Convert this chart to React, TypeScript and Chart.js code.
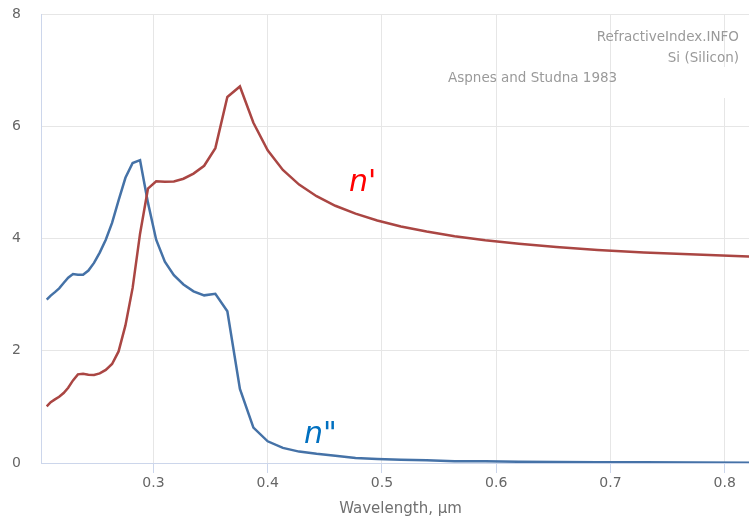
import { useEffect, useRef } from "react";
import { Chart, registerables } from "chart.js";

Chart.register(...registerables);

// Wavelength in µm (Aspnes and Studna 1983, Si)
const wavelength = [
  0.2066, 0.2101, 0.2138, 0.2175, 0.2214, 0.2254, 0.2296, 0.2339, 0.2384, 0.2431,
  0.2480, 0.2530, 0.2583, 0.2638, 0.2695, 0.2755, 0.2818, 0.2883, 0.2952, 0.3024,
  0.3100, 0.3179, 0.3263, 0.3351, 0.3444, 0.3542, 0.3647, 0.3757, 0.3875, 0.4000,
  0.4133, 0.4275, 0.4428, 0.4592, 0.4769, 0.4959, 0.5166, 0.5391, 0.5636, 0.5904,
  0.6199, 0.6526, 0.6888, 0.7293, 0.7749, 0.8266,
];

// n' (real part)
const nReal = [
  1.010, 1.083, 1.133, 1.180, 1.247, 1.340, 1.471, 1.579, 1.589, 1.571,
  1.570, 1.597, 1.658, 1.764, 1.988, 2.451, 3.120, 4.086, 4.888, 5.020,
  5.010, 5.016, 5.065, 5.156, 5.296, 5.610, 6.522, 6.709, 6.062, 5.570,
  5.222, 4.961, 4.753, 4.583, 4.442, 4.320, 4.215, 4.123, 4.042, 3.969,
  3.906, 3.847, 3.796, 3.752, 3.714, 3.673,
];

// n'' (imaginary part)
const nImag = [
  2.909, 2.982, 3.045, 3.112, 3.206, 3.302, 3.366, 3.353, 3.354, 3.429,
  3.565, 3.749, 3.979, 4.278, 4.678, 5.082, 5.344, 5.395, 4.639, 3.979,
  3.586, 3.346, 3.182, 3.058, 2.987, 3.014, 2.705, 1.321, 0.630, 0.387,
  0.269, 0.203, 0.163, 0.130, 0.090, 0.073, 0.060, 0.048, 0.032, 0.030,
  0.022, 0.016, 0.013, 0.012, 0.009, 0.005,
];

const xTicks = [0.3, 0.4, 0.5, 0.6, 0.7, 0.8];
const yTicks = [0, 2, 4, 6, 8];

const FONT = "'DejaVu Sans', sans-serif";

const overlayPlugin = {
  id: "overlay",
  beforeDatasetsDraw(chart: any) {
    const ctx = chart.ctx;
    ctx.save();
    ctx.fillStyle = "#ffffff";
    ctx.fillRect(705, 67, 44, 31);
    ctx.restore();
  },
  afterDraw(chart: any) {
    const ctx = chart.ctx;
    ctx.save();
    ctx.fillStyle = "#9a9a9a";
    ctx.font = `13.5px ${FONT}`;
    ctx.textBaseline = "middle";
    ctx.textAlign = "right";
    ctx.fillText("RefractiveIndex.INFO", 739, 37);
    ctx.fillText("Si (Silicon)", 739, 58);
    ctx.textAlign = "left";
    ctx.fillText("Aspnes and Studna 1983", 448, 78);

    ctx.font = `italic 30px ${FONT}`;
    ctx.textBaseline = "alphabetic";
    ctx.fillStyle = "#ff0000";
    ctx.fillText("n'", 349, 191);
    ctx.fillStyle = "#0070c0";
    ctx.fillText('n"', 304, 443);
    ctx.restore();
  },
};

export default function App() {
  const ref = useRef<HTMLCanvasElement>(null);

  useEffect(() => {
    if (!ref.current) return;
    const chart = new Chart(ref.current, {
      type: "line",
      data: {
        datasets: [
          {
            label: "n'",
            data: wavelength.map((x, i) => ({ x, y: nReal[i] })),
            borderColor: "#AA4643",
            borderWidth: 2.5,
            pointRadius: 0,
            tension: 0,
            fill: false,
          },
          {
            label: "n''",
            data: wavelength.map((x, i) => ({ x, y: nImag[i] })),
            borderColor: "#4572A7",
            borderWidth: 2.5,
            pointRadius: 0,
            tension: 0,
            fill: false,
          },
        ],
      },
      options: {
        responsive: false,
        animation: false,
        layout: { padding: { top: 14, left: 0, right: 0, bottom: 0 }, autoPadding: false },
        plugins: {
          legend: { display: false },
          tooltip: { enabled: false },
          title: { display: false },
        },
        scales: {
          x: {
            type: "linear",
            min: 0.2016,
            max: 0.8309,
            afterFit: (s: any) => {
              s.height = 60;
              s.paddingLeft = 0;
              s.paddingRight = 0;
            },
            afterBuildTicks: (s: any) => {
              s.ticks = xTicks.map((v) => ({ value: v }));
            },
            ticks: {
              color: "#666666",
              font: { family: FONT, size: 14 },
              padding: 2,
              maxRotation: 0,
              callback: (v: any) => String(v),
            },
            grid: {
              color: "#e6e6e6",
              tickColor: "#ccd6eb",
              tickLength: 10,
              drawTicks: true,
            },
            border: { color: "#ccd6eb", width: 1 },
            title: {
              display: true,
              text: "Wavelength, µm",
              color: "#707070",
              font: { family: FONT, size: 15, lineHeight: 1 },
              padding: { top: 0, bottom: 6 },
            },
          },
          y: {
            type: "linear",
            min: 0,
            max: 8,
            afterFit: (s: any) => {
              s.width = 41;
              s.paddingTop = 0;
              s.paddingBottom = 0;
            },
            afterBuildTicks: (s: any) => {
              s.ticks = yTicks.map((v) => ({ value: v }));
            },
            ticks: {
              color: "#666666",
              font: { family: FONT, size: 14 },
              padding: 20,
            },
            grid: {
              color: "#e6e6e6",
              drawTicks: false,
            },
            border: { color: "#ccd6eb", width: 1 },
          },
        },
      },
      plugins: [overlayPlugin],
    });
    return () => chart.destroy();
  }, []);

  return (
    <div
      style={{
        position: "fixed",
        left: 0,
        top: 0,
        width: 749,
        height: 523,
        overflow: "hidden",
        background: "#ffffff",
      }}
    >
      <canvas ref={ref} width={760} height={523} />
    </div>
  );
}
